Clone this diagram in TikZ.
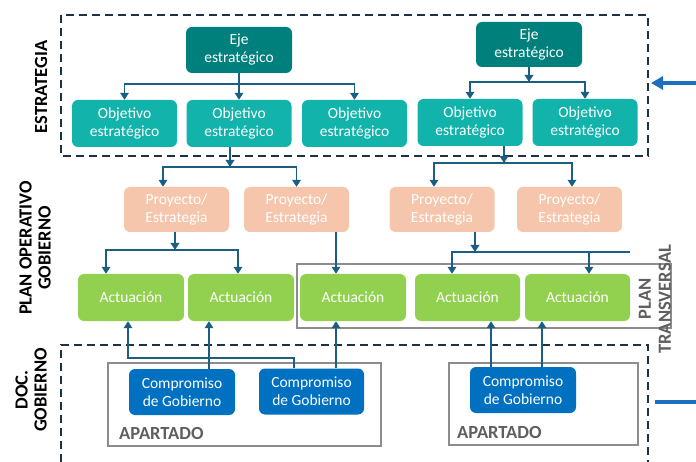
\documentclass[tikz,border=0pt]{standalone}
\usepackage{fontspec}
\setmainfont{Carlito}
\usetikzlibrary{arrows.meta,calc}
\definecolor{ejec}{HTML}{00807C}
\definecolor{objc}{HTML}{12B3AA}
\definecolor{proyc}{HTML}{F6C6AC}
\definecolor{actc}{HTML}{92D050}
\definecolor{compc}{HTML}{0070C0}
\definecolor{connc}{HTML}{1B5E82}
\definecolor{dashc}{HTML}{1C3245}
\definecolor{grayc}{HTML}{8C8C8C}
\definecolor{grtxt}{HTML}{5F5F5F}
\definecolor{bluec}{HTML}{1E6EC0}
\begin{document}
\begin{tikzpicture}[x=1pt,y=-1pt,
  box/.style={rounded corners=6pt, minimum width=106pt, minimum height=46pt, text=white,
    align=center, font=\fontsize{15.5}{18}\selectfont, inner sep=0pt},
  conn/.style={draw=connc, line width=1.8pt},
  arr/.style={conn, -{Triangle[length=7pt,width=8.5pt]}},
  dashbox/.style={draw=dashc, line width=1.8pt, dash pattern=on 8pt off 5pt},
  graybox/.style={draw=grayc, line width=1.6pt},
  sidelbl/.style={font=\fontsize{18.5}{19}\selectfont\bfseries, align=center, inner sep=0pt},
  aptlbl/.style={font=\fontsize{18.5}{19}\selectfont\bfseries, text=grtxt, inner sep=0pt, anchor=base west},
  bluearr/.style={draw=bluec, line width=3.8pt}
]
\useasboundingbox (0,0) rectangle (696,462);

% frames
\draw[dashbox] (61,15) rectangle (648,156);
\draw[dashbox] (61,462) -- (61,345) -- (648,345) -- (648,462);
\draw[graybox] (297,264) rectangle (671,328);
\draw[graybox] (108,363) rectangle (381,446);
\draw[graybox] (449,363) rectangle (638,445);

% nodes
\node[box, fill=ejec] (eje1) at (239,50) {Eje\\estratégico};
\node[box, fill=ejec, minimum height=45pt] (eje2) at (529,44.5) {Eje\\estratégico};
\node[box, fill=objc, minimum width=105pt, minimum height=47pt] (obj1) at (124.5,123.5) {Objetivo\\estratégico};
\node[box, fill=objc, minimum width=105pt, minimum height=47pt] (obj2) at (239,123.5) {Objetivo\\estratégico};
\node[box, fill=objc, minimum width=105pt, minimum height=47pt] (obj3) at (354.5,123.5) {Objetivo\\estratégico};
\node[box, fill=objc, minimum width=105pt, minimum height=47pt] (obj4) at (470,122.5) {Objetivo\\estratégico};
\node[box, fill=objc, minimum width=105pt, minimum height=47pt] (obj5) at (585,122.5) {Objetivo\\estratégico};

\node[box, fill=proyc, minimum width=105pt, minimum height=45pt] (proy1) at (176.5,209.5) {Proyecto/\\Estrategia};
\node[box, fill=proyc, minimum width=105pt, minimum height=45pt] (proy2) at (296.5,209.5) {Proyecto/\\Estrategia};
\node[box, fill=proyc, minimum width=105pt, minimum height=45pt] (proy3) at (442,209.5) {Proyecto/\\Estrategia};
\node[box, fill=proyc, minimum width=105pt, minimum height=45pt] (proy4) at (569.5,209.5) {Proyecto/\\Estrategia};

\node[box, fill=actc, minimum height=47pt] (act1) at (131,297.5) {Actuación};
\node[box, fill=actc, minimum height=47pt] (act2) at (241,297.5) {Actuación};
\node[box, fill=actc, minimum height=47pt] (act3) at (353,297.5) {Actuación};
\node[box, fill=actc, minimum width=105pt, minimum height=47pt] (act4) at (467.5,297.5) {Actuación};
\node[box, fill=actc, minimum width=105pt, minimum height=47pt] (act5) at (577.5,297.5) {Actuación};

\node[box, fill=compc] (comp1) at (182,392) {Compromiso\\de Gobierno};
\node[box, fill=compc, minimum width=105pt] (comp2) at (311.5,391.5) {Compromiso\\de Gobierno};
\node[box, fill=compc] (comp3) at (523,390) {Compromiso\\de Gobierno};

% labels
\node[sidelbl, rotate=90] (lblE) at (41,87) {ESTRATEGIA};
\node[sidelbl, rotate=90] (lblP) at (35,248) {PLAN OPERATIVO\\GOBIERNO};
\node[sidelbl, rotate=90] (lblD) at (31,390) {DOC.\\GOBIERNO};
\node[sidelbl, rotate=90, text=grtxt, font=\fontsize{18.5}{20}\selectfont\bfseries] (lblT) at (655,299) {PLAN\\TRANSVERSAL};
\node[aptlbl] (apt1) at (119,439) {APARTADO};
\node[aptlbl] (apt2) at (457,438) {APARTADO};

% eje1 -> objetivos
\coordinate (j1) at (239,84);
\draw[arr] (eje1.south) -- (obj2.north);
\draw[arr] (obj3.north |- j1) -- (obj1.north |- j1) -- (obj1.north);
\draw[arr] (obj1.north |- j1) -- (obj3.north |- j1) -- (obj3.north);

% eje2 -> objetivos
\coordinate (j2) at (529,82);
\draw[arr] (eje2.south) -- (j2);
\draw[arr] (obj5.north |- j2) -- (obj4.north |- j2) -- (obj4.north);
\draw[arr] (obj4.north |- j2) -- (obj5.north |- j2) -- (obj5.north);

% obj2 -> proyectos
\coordinate (j3) at (230,167);
\coordinate (j3l) at (163,167);
\coordinate (j3r) at (proy2.north |- j3);
\draw[arr] (obj2.south -| j3) -- (j3);
\draw[arr] (j3r) -- (j3l) -- (j3l |- proy1.north);
\draw[arr] (j3l) -- (j3r) -- (proy2.north);

% obj4 -> proyectos
\coordinate (j4) at (504,163);
\coordinate (j4l) at (434,163);
\coordinate (j4r) at (572,163);
\draw[arr] (obj4.south -| j4) -- (j4);
\draw[arr] (j4r) -- (j4l) -- (j4l |- proy3.north);
\draw[arr] (j4l) -- (j4r) -- (j4r |- proy4.north);

% proy1 -> act1, act2
\coordinate (j5) at (175,250);
\coordinate (j5l) at (106,250);
\coordinate (j5r) at (238,250);
\draw[arr] (proy1.south -| j5) -- (j5);
\draw[arr] (j5r) -- (j5l) -- (j5l |- act1.north);
\draw[arr] (j5l) -- (j5r) -- (j5r |- act2.north);

% proy2 -> act3
\coordinate (c6) at (336,240);
\draw[arr] (proy2.south -| c6) -- (act3.north -| c6);

% proy3 -> act4, act5
\coordinate (j7) at (475,252);
\coordinate (j7l) at (452,252);
\coordinate (j7r) at (589,252);
\coordinate (j7e) at (630,252);
\draw[arr] (proy3.south -| j7) -- (j7);
\draw[arr] (j7e) -- (j7l) -- (j7l |- act4.north);
\draw[arr] (j7r) -- (j7r |- act5.north);

% compromisos -> actuaciones
\coordinate (k1) at (209,340);
\draw[arr] (comp1.north -| k1) -- (act2.south -| k1);
\coordinate (k2) at (294,358);
\coordinate (k2l) at (128,358);
\draw[arr] (comp2.north -| k2) -- (k2) -- (k2l) -- (act1.south -| k2l);
\coordinate (k3) at (336,340);
\draw[arr] (comp2.north -| k3) -- (act3.south -| k3);
\coordinate (k4) at (491,340);
\draw[arr] (comp3.north -| k4) -- (act4.south -| k4);
\coordinate (k5) at (542,340);
\draw[arr] (comp3.north -| k5) -- (act5.south -| k5);

% blue side arrows
\coordinate (ba1) at (696,83);
\coordinate (bt1) at (651,83);
\draw[bluearr, -{Triangle[length=12pt,width=13pt]}] (ba1) -- (bt1);
\coordinate (ba2) at (696,402);
\coordinate (bt2) at (655,402);
\draw[bluearr] (ba2) -- (bt2);
\end{tikzpicture}
\end{document}
